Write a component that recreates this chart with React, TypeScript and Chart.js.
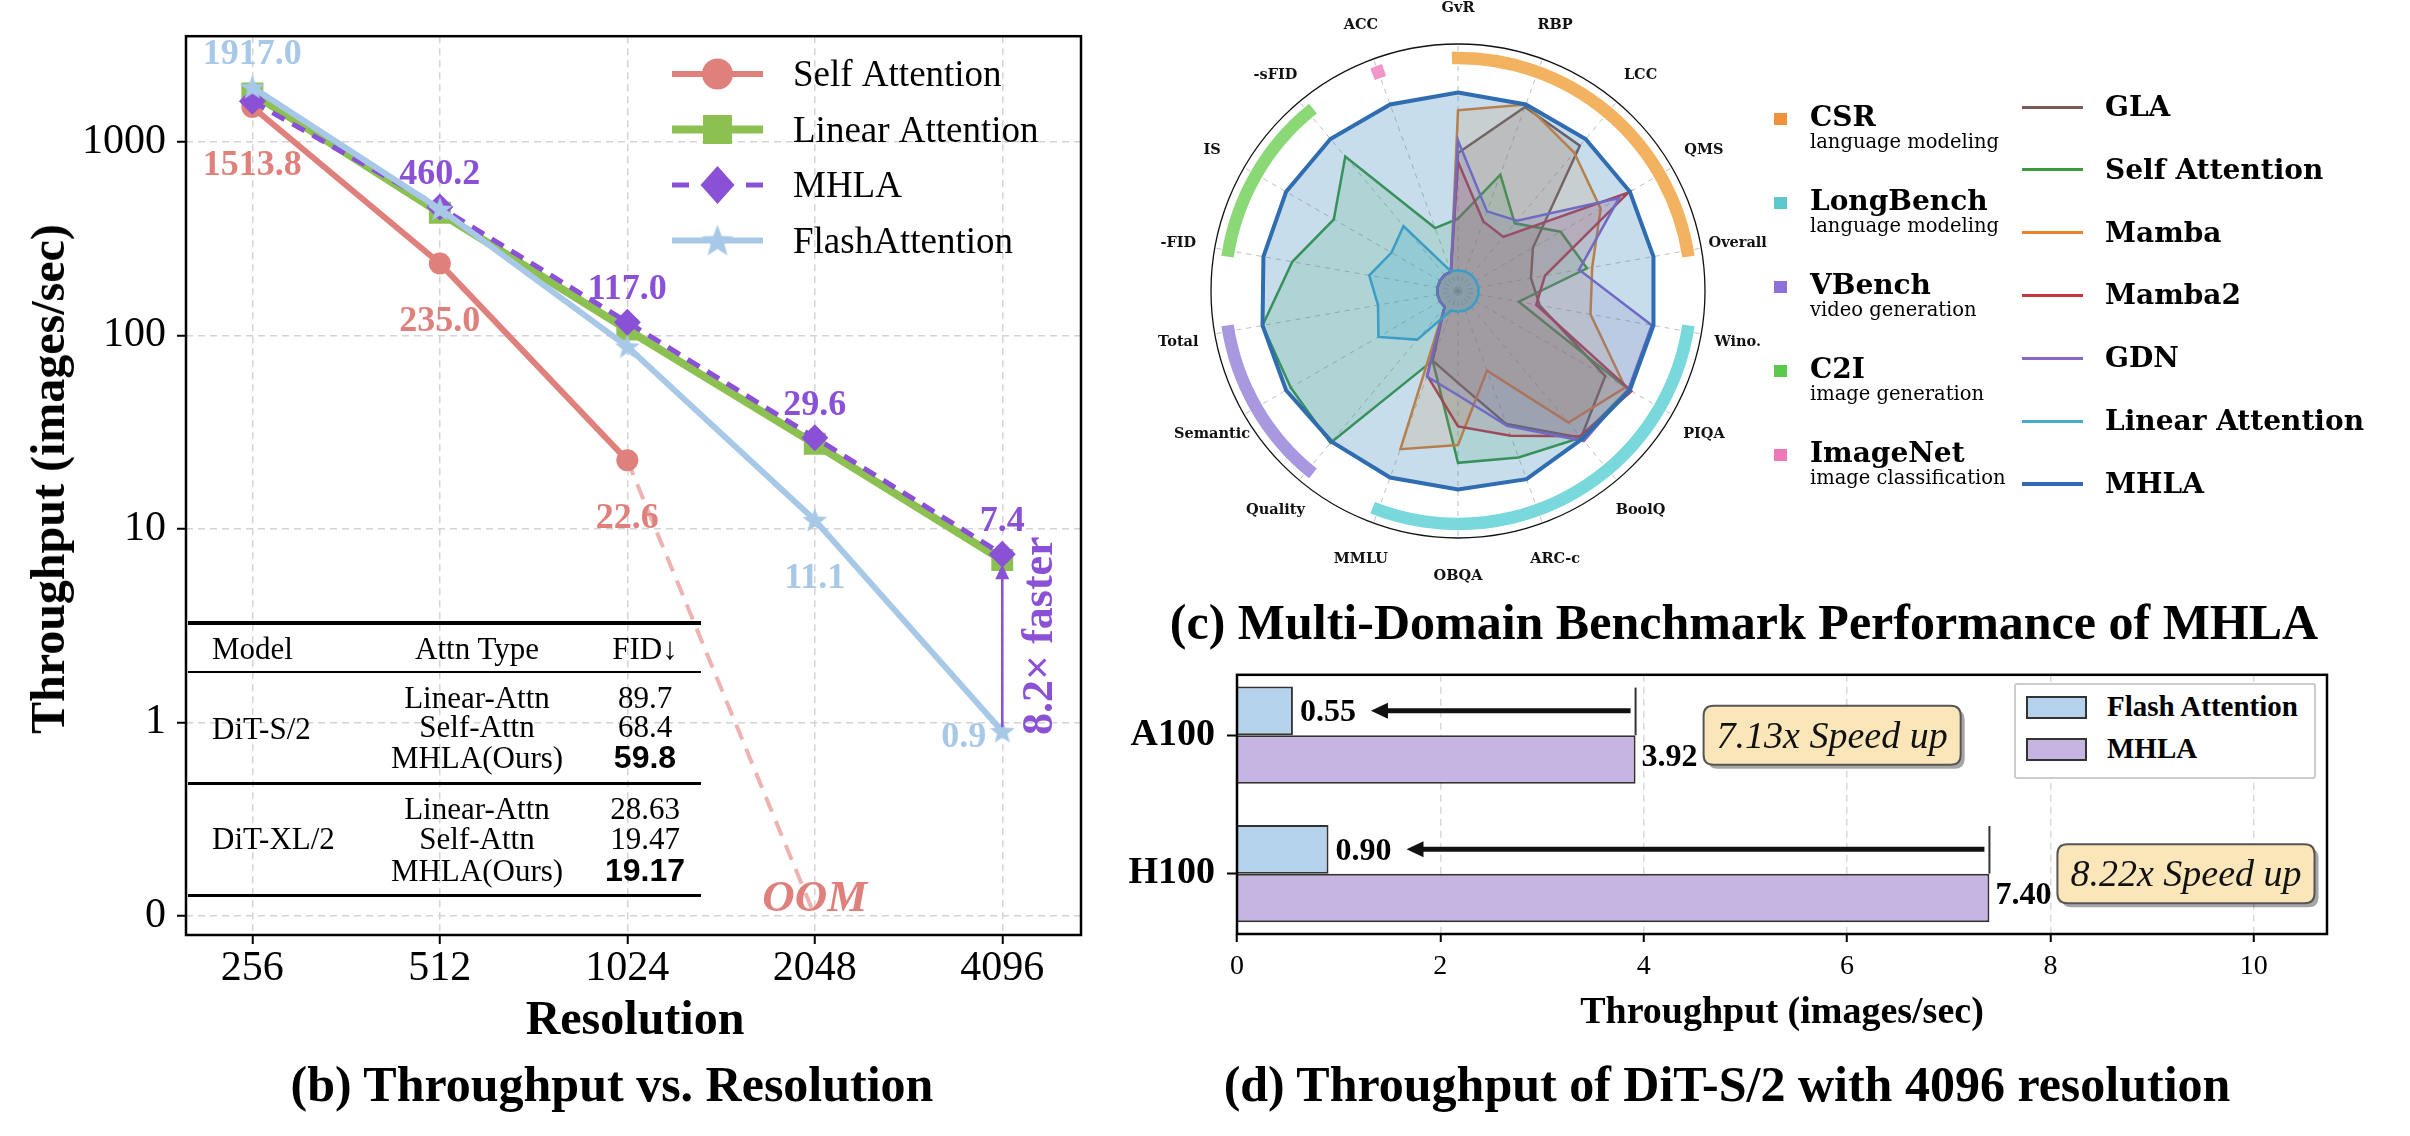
import React, { useEffect, useRef } from 'react';
import { Chart, registerables } from 'chart.js';
Chart.register(...registerables);

const TIMES = '"Liberation Serif", "Times New Roman", Times, serif';
const DJV = '"DejaVu Serif", serif';
const SANS = '"Liberation Sans", Arial, sans-serif';

// ---------- Panel (b): throughput vs resolution ----------
const resolutions = ['256', '512', '1024', '2048', '4096'];
const selfAttention = [1513.8, 235.0, 22.6, null, null];
const linearAttention = [1780, 430, 107, 27.5, 6.9];
const mhlaThroughput = [1620, 460.2, 117.0, 29.6, 7.4];
const flashThroughput = [1917.0, 450, 87.5, 11.1, 0.9];
const oomTrail = [null, null, 22.6, 0.1, null]; // 0.1 is the position labelled "0"
const yTickValues = [0.1, 1, 10, 100, 1000];
const yTickLabels = ['0', '1', '10', '100', '1000'];
const selfLabelPos = ['below', 'below', 'below', null, null];
const mhlaLabelPos = [null, 'above', 'above', 'above', 'above'];
const flashLabelPos = ['above', null, null, 'below', 'left'];

// inset table
const tableModels = ['DiT-S/2', 'DiT-XL/2'];
const attnTypes = ['Linear-Attn', 'Self-Attn', 'MHLA(Ours)'];
const fidS2 = ['89.7', '68.4', '59.8'];
const fidXL2 = ['28.63', '19.47', '19.17'];

// ---------- Panel (c): radar ----------
const radarAxes = ['GvR', 'RBP', 'LCC', 'QMS', 'Overall', 'Wino.', 'PIQA', 'BoolQ', 'ARC-c', 'OBQA', 'MMLU', 'Quality', 'Semantic', 'Total', '-FID', 'IS', '-sFID', 'ACC'];
const glaScores = [0.66, 0.985, 0.95, 0.37, 0.30, 0.35, 0.84, 0.96, 0.68, 0.40, 0.30, 0, 0, 0, 0, 0, 0, 0];
const selfScores = [0.29, 0.58, 0.38, 0.55, 0.62, 0.23, 0.99, 0.96, 0.88, 0.85, 0.30, 1.0, 0.97, 1.0, 0.83, 0.69, 0.87, 0.26];
const mambaScores = [0.90, 1.0, 0.90, 0.81, 0.65, 0.64, 0.97, 0.85, 0.36, 0.75, 0.83, 0, 0, 0, 0, 0, 0, 0];
const mamba2Scores = [0.61, 0.30, 0.28, 0.99, 0.38, 0.33, 1.01, 0.95, 0.75, 0.645, 0.39, 0, 0, 0, 0, 0, 0, 0];
const gdnScores = [0.73, 0.36, 0.40, 0.93, 0.575, 0.99, 0.99, 0.985, 0.69, 0.47, 0.395, 0, 0, 0, 0, 0, 0, 0];
const linearScores = [0, 0, 0, 0, 0, 0, 0, 0, 0, 0, 0, 0.24, 0.40, 0.34, 0.39, 0.315, 0.36, 0];
const mhlaScores = [1, 1, 1, 1, 1, 1, 1, 0.97, 1.01, 1, 1, 0.99, 1, 1, 0.995, 1, 1, 1];
const radarNames = ['GLA', 'Self Attention', 'Mamba', 'Mamba2', 'GDN', 'Linear Attention', 'MHLA'];
const radarColors = ['#7d5a55', '#3f9a3f', '#e8832a', '#c8383a', '#8a66c8', '#45aacc', '#2f6db0'];
const radarFills = ['rgba(140,86,75,0.16)', 'rgba(44,160,44,0.15)', 'rgba(255,127,14,0.15)', 'rgba(214,39,40,0.15)', 'rgba(148,103,189,0.16)', 'rgba(23,190,207,0.18)', 'rgba(31,119,180,0.25)'];
const domainNames = ['CSR', 'LongBench', 'VBench', 'C2I', 'ImageNet'];
const domainTasks = ['language modeling', 'language modeling', 'video generation', 'image generation', 'image classification'];
const domainFirstAxis = [0, 5, 11, 14, 17];
const domainLastAxis = [4, 10, 13, 16, 17];
const domainArcColors = ['#f2b25f', '#78d8dc', '#a898e0', '#8ad876', '#f096c8'];
const domainKeyColors = ['#f0923a', '#5bc8cc', '#8e70d8', '#5cc84c', '#ee78b8'];

// ---------- Panel (d): bar ----------
const gpus = ['A100', 'H100'];
const flashGpu = [0.55, 0.90];
const mhlaGpu = [3.92, 7.40];

const C_SELF = '#e0807c';
const C_LIN = '#8cc152';
const C_MHLA = '#8a50d6';
const C_FLASH = '#a8c8e8';

function makeStar(outer: number, color: string) {
  const c = document.createElement('canvas');
  const s = Math.ceil(outer * 2 + 2);
  c.width = s; c.height = s;
  const ctx = c.getContext('2d')!;
  const inner = outer * 0.42;
  ctx.beginPath();
  for (let k = 0; k < 10; k++) {
    const r = k % 2 === 0 ? outer : inner;
    const a = -Math.PI / 2 + (k * Math.PI) / 5;
    const x = s / 2 + r * Math.cos(a), y = s / 2 + r * Math.sin(a) + outer * 0.08;
    if (k === 0) ctx.moveTo(x, y); else ctx.lineTo(x, y);
  }
  ctx.closePath();
  ctx.fillStyle = color;
  ctx.fill();
  return c;
}

function textC(ctx: CanvasRenderingContext2D, t: string, x: number, cy: number, size: number, align: CanvasTextAlign = 'center', k = 0.33) {
  ctx.textAlign = align;
  ctx.textBaseline = 'alphabetic';
  ctx.fillText(t, x, cy + size * k);
}

function buildB(canvas: HTMLCanvasElement) {
  const star = makeStar(13, C_FLASH);
  const starBig = makeStar(17, C_FLASH);
  const xy = (arr: (number | null)[]) => arr.map((v, i) => ({ x: i, y: v }));
  const plugin = {
    id: 'panelB',
    afterDatasetsDraw(chart: any) {
      const { ctx, chartArea: a, scales } = chart;
      const x = scales.x, y = scales.y;
      ctx.save();
      ctx.strokeStyle = '#000';
      ctx.lineWidth = 2.5;
      ctx.strokeRect(a.left, a.top, a.right - a.left, a.bottom - a.top);
      // value labels
      ctx.font = `bold 36px ${TIMES}`;
      const put = (arr: (number | null)[], pos: (string | null)[], color: string) => {
        arr.forEach((v, i) => {
          const p = pos[i];
          if (!p || v == null) return;
          const px = x.getPixelForValue(i), py = y.getPixelForValue(v);
          ctx.fillStyle = color;
          const t = v.toFixed(1);
          if (p === 'above') textC(ctx, t, px, py - 35, 36);
          else if (p === 'below') textC(ctx, t, px, py + 56, 36);
          else textC(ctx, t, px - 16, py + 4, 36, 'right');
        });
      };
      put(selfAttention, selfLabelPos, C_SELF);
      put(mhlaThroughput, mhlaLabelPos, C_MHLA);
      put(flashThroughput, flashLabelPos, C_FLASH);
      // OOM
      ctx.font = `italic bold 45px ${TIMES}`;
      ctx.fillStyle = C_SELF;
      textC(ctx, 'OOM', x.getPixelForValue(3), y.getPixelForValue(0.1) - 20, 45);
      // speed-up arrow
      const last = resolutions.length - 1;
      const ax = x.getPixelForValue(last);
      const yBot = y.getPixelForValue(flashThroughput[last] as number) - 4;
      const yTop = y.getPixelForValue(mhlaThroughput[last] as number) + 10;
      ctx.strokeStyle = C_MHLA;
      ctx.fillStyle = C_MHLA;
      ctx.lineWidth = 2.5;
      ctx.beginPath();
      ctx.moveTo(ax, yBot);
      ctx.lineTo(ax, yTop + 12);
      ctx.stroke();
      ctx.beginPath();
      ctx.moveTo(ax, yTop);
      ctx.lineTo(ax - 7, yTop + 15);
      ctx.lineTo(ax + 7, yTop + 15);
      ctx.closePath();
      ctx.fill();
      const ratio = (mhlaThroughput[last] as number) / (flashThroughput[last] as number);
      ctx.save();
      ctx.translate(ax + 35, (yBot + yTop) / 2 - 10);
      ctx.rotate(-Math.PI / 2);
      ctx.font = `bold 44px ${TIMES}`;
      textC(ctx, `${ratio.toFixed(1)}× faster`, 0, 0, 44);
      ctx.restore();
      // legend
      const lx0 = 672, lx1 = 763, lmx = (lx0 + lx1) / 2;
      const ly = [74, 129.5, 185, 240.5];
      ctx.lineCap = 'butt';
      ctx.strokeStyle = C_SELF; ctx.lineWidth = 6; ctx.setLineDash([]);
      ctx.beginPath(); ctx.moveTo(lx0, ly[0]); ctx.lineTo(lx1, ly[0]); ctx.stroke();
      ctx.fillStyle = C_SELF; ctx.beginPath(); ctx.arc(lmx, ly[0], 15.5, 0, Math.PI * 2); ctx.fill();
      ctx.strokeStyle = C_LIN; ctx.lineWidth = 8;
      ctx.beginPath(); ctx.moveTo(lx0, ly[1]); ctx.lineTo(lx1, ly[1]); ctx.stroke();
      ctx.fillStyle = C_LIN; ctx.fillRect(lmx - 14.5, ly[1] - 14.5, 29, 29);
      ctx.strokeStyle = C_MHLA; ctx.lineWidth = 5;
      ctx.beginPath(); ctx.moveTo(lx0, ly[2]); ctx.lineTo(lx0 + 17, ly[2]); ctx.moveTo(lx1 - 17, ly[2]); ctx.lineTo(lx1, ly[2]); ctx.stroke();
      ctx.fillStyle = C_MHLA; ctx.beginPath();
      ctx.moveTo(lmx, ly[2] - 19); ctx.lineTo(lmx + 17, ly[2]); ctx.lineTo(lmx, ly[2] + 19); ctx.lineTo(lmx - 17, ly[2]); ctx.closePath(); ctx.fill();
      ctx.strokeStyle = C_FLASH; ctx.lineWidth = 6;
      ctx.beginPath(); ctx.moveTo(lx0, ly[3]); ctx.lineTo(lx1, ly[3]); ctx.stroke();
      ctx.drawImage(starBig, lmx - starBig.width / 2, ly[3] - starBig.height / 2);
      ctx.fillStyle = '#000';
      ctx.font = `37px ${TIMES}`;
      ['Self Attention', 'Linear Attention', 'MHLA', 'FlashAttention'].forEach((t, i) => textC(ctx, t, 793, ly[i], 37, 'left'));
      ctx.restore();
    },
  };
  const gridCommon = { color: '#d4d4d4', lineWidth: 1.5, drawTicks: true, tickLength: 9, tickColor: '#000', tickWidth: 2 };
  return new Chart(canvas, {
    type: 'line',
    data: {
      datasets: [
        { label: 'OOM', data: xy(oomTrail), borderColor: 'rgba(224,128,124,0.6)', borderWidth: 4, borderDash: [16, 10], pointRadius: 0, order: 5 } as any,
        { label: 'Self Attention', data: xy(selfAttention), borderColor: C_SELF, backgroundColor: C_SELF, borderWidth: 6, pointStyle: 'circle', pointRadius: 11, pointBorderWidth: 0, order: 4 },
        { label: 'Linear Attention', data: xy(linearAttention), borderColor: C_LIN, backgroundColor: C_LIN, borderWidth: 8, pointStyle: 'rect', pointRadius: 15.5, pointBorderWidth: 0, order: 3 },
        { label: 'MHLA', data: xy(mhlaThroughput), borderColor: C_MHLA, backgroundColor: C_MHLA, borderWidth: 5, borderDash: [14, 9], pointStyle: 'rectRot', pointRadius: 13.5, pointBorderWidth: 0, order: 2 },
        { label: 'FlashAttention', data: xy(flashThroughput), borderColor: C_FLASH, backgroundColor: C_FLASH, borderWidth: 6, pointStyle: star, pointRadius: 13, order: 1 },
      ],
    },
    options: {
      animation: false,
      responsive: false,
      layout: { padding: { top: 24, right: 16, left: 0, bottom: 0 } },
      plugins: { legend: { display: false }, tooltip: { enabled: false } },
      scales: {
        x: {
          type: 'linear', min: -0.354, max: 4.42,
          afterBuildTicks: (s: any) => { s.ticks = resolutions.map((_, i) => ({ value: i })); },
          afterFit: (s: any) => { s.height = 65; },
          ticks: { callback: (v: any) => resolutions[v], font: { family: TIMES, size: 42, lineHeight: 1.2 }, color: '#000', padding: 0, maxRotation: 0, autoSkip: false },
          grid: gridCommon,
          border: { display: false, dash: [7, 5] },
        },
        y: {
          type: 'logarithmic', min: 0.0796, max: 3515,
          afterBuildTicks: (s: any) => { s.ticks = yTickValues.map((v) => ({ value: v })); },
          afterFit: (s: any) => { s.width = 186; },
          ticks: { callback: (v: any) => yTickLabels[yTickValues.indexOf(v)] ?? '', font: { family: TIMES, size: 42 }, color: '#000', padding: 11, autoSkip: false },
          grid: gridCommon,
          border: { display: false, dash: [7, 5] },
        },
      },
    } as any,
    plugins: [plugin],
  });
}

function buildC(canvas: HTMLCanvasElement) {
  const plugin = {
    id: 'radarDeco',
    beforeDatasetsDraw(chart: any) {
      const r = chart.scales.r;
      const ctx = chart.ctx;
      ctx.save();
      ctx.beginPath();
      ctx.arc(r.xCenter, r.yCenter, r.drawingArea, 0, Math.PI * 2);
      ctx.strokeStyle = '#111';
      ctx.lineWidth = 1.3;
      ctx.stroke();
      const step = (Math.PI * 2) / radarAxes.length;
      const pad = (1.5 * Math.PI) / 180;
      domainFirstAxis.forEach((f, k) => {
        const a0 = f * step - Math.PI / 2 - pad;
        const a1 = domainLastAxis[k] * step - Math.PI / 2 + pad;
        ctx.beginPath();
        ctx.arc(r.xCenter, r.yCenter, r.drawingArea - 14, a0, a1);
        ctx.strokeStyle = domainArcColors[k];
        ctx.lineWidth = 12.5;
        ctx.lineCap = 'butt';
        ctx.stroke();
      });
      ctx.restore();
    },
    afterDraw(chart: any) {
      const r = chart.scales.r;
      const ctx = chart.ctx;
      ctx.save();
      ctx.fillStyle = '#111';
      ctx.font = `bold 14.5px ${DJV}`;
      radarAxes.forEach((lab, i) => {
        const p = r.getPointPosition(i, 284);
        textC(ctx, lab, p.x, p.y, 14.5, 'center', 0.36);
      });
      ctx.restore();
    },
  };
  const series = [glaScores, selfScores, mambaScores, mamba2Scores, gdnScores, linearScores, mhlaScores];
  return new Chart(canvas, {
    type: 'radar',
    data: {
      labels: radarAxes,
      datasets: series.map((d, i) => ({
        label: radarNames[i],
        data: d,
        borderColor: radarColors[i],
        backgroundColor: radarFills[i],
        borderWidth: i === 6 ? 4 : 2.5,
        pointRadius: 0,
        fill: 'start',
        order: 7 - i,
      })),
    },
    options: {
      animation: false,
      responsive: false,
      layout: { padding: { top: 44, bottom: 62, left: 73, right: 73 } },
      plugins: { legend: { display: false }, tooltip: { enabled: false } },
      scales: {
        r: {
          min: -0.117, max: 1.273,
          ticks: { display: false },
          grid: { display: false },
          angleLines: { display: true, color: 'rgba(150,150,150,0.6)', lineWidth: 1, borderDash: [5, 5] },
          pointLabels: { display: false },
        },
      },
    } as any,
    plugins: [plugin],
  });
}

function roundRect(ctx: CanvasRenderingContext2D, x: number, y: number, w: number, h: number, r: number) {
  ctx.beginPath();
  ctx.moveTo(x + r, y);
  ctx.lineTo(x + w - r, y);
  ctx.quadraticCurveTo(x + w, y, x + w, y + r);
  ctx.lineTo(x + w, y + h - r);
  ctx.quadraticCurveTo(x + w, y + h, x + w - r, y + h);
  ctx.lineTo(x + r, y + h);
  ctx.quadraticCurveTo(x, y + h, x, y + h - r);
  ctx.lineTo(x, y + r);
  ctx.quadraticCurveTo(x, y, x + r, y);
  ctx.closePath();
}

function buildD(canvas: HTMLCanvasElement) {
  const plugin = {
    id: 'panelD',
    afterDatasetsDraw(chart: any) {
      const { ctx, chartArea: a } = chart;
      ctx.save();
      ctx.strokeStyle = '#000';
      ctx.lineWidth = 2.5;
      ctx.strokeRect(a.left, a.top, a.right - a.left, a.bottom - a.top);
      const fMeta = chart.getDatasetMeta(0).data;
      const mMeta = chart.getDatasetMeta(1).data;
      gpus.forEach((g, i) => {
        const fb = fMeta[i], mb = mMeta[i];
        const catY = (fb.y + mb.y) / 2;
        const fTop = Math.min(fb.y, mb.y) - fb.height / 2;
        ctx.fillStyle = '#000';
        ctx.font = `bold 32px ${TIMES}`;
        const fl = flashGpu[i].toFixed(2);
        textC(ctx, fl, fb.x + 7, fb.y, 32, 'left');
        const fw = ctx.measureText(fl).width;
        textC(ctx, mhlaGpu[i].toFixed(2), mb.x + 6, mb.y - 4, 32, 'left');
        // reference line
        ctx.strokeStyle = '#333';
        ctx.lineWidth = 2;
        ctx.beginPath();
        ctx.moveTo(mb.x, fTop + 1);
        ctx.lineTo(mb.x, catY);
        ctx.stroke();
        // arrow
        const tip = fb.x + 7 + fw + 15;
        const tail = mb.x - 5;
        ctx.strokeStyle = '#111';
        ctx.fillStyle = '#111';
        ctx.lineWidth = 5;
        ctx.beginPath();
        ctx.moveTo(tail, fb.y);
        ctx.lineTo(tip + 12, fb.y);
        ctx.stroke();
        ctx.beginPath();
        ctx.moveTo(tip, fb.y);
        ctx.lineTo(tip + 17, fb.y - 8);
        ctx.lineTo(tip + 17, fb.y + 8);
        ctx.closePath();
        ctx.fill();
        // speed-up box
        const txt = `${(mhlaGpu[i] / flashGpu[i]).toFixed(2)}x Speed up`;
        ctx.font = `italic 38px ${TIMES}`;
        const tw = ctx.measureText(txt).width;
        const bw = tw + 26, bh = 59;
        const bx = mb.x + 68, by = catY - bh / 2;
        ctx.fillStyle = 'rgba(0,0,0,0.35)';
        roundRect(ctx, bx + 4, by + 4, bw, bh, 10);
        ctx.fill();
        ctx.fillStyle = '#fae6b8';
        roundRect(ctx, bx, by, bw, bh, 10);
        ctx.fill();
        ctx.strokeStyle = '#555';
        ctx.lineWidth = 2;
        ctx.stroke();
        ctx.fillStyle = '#111';
        textC(ctx, txt, bx + bw / 2, catY, 38);
      });
      ctx.restore();
    },
  };
  return new Chart(canvas, {
    type: 'bar',
    data: {
      datasets: [
        { label: 'Flash Attention', data: gpus.map((_, i) => ({ x: flashGpu[i], y: i })), backgroundColor: '#b5d2ec', borderColor: '#333', borderWidth: 2, categoryPercentage: 0.702, barPercentage: 1 },
        { label: 'MHLA', data: gpus.map((_, i) => ({ x: mhlaGpu[i], y: i })), backgroundColor: '#c6b5e2', borderColor: '#333', borderWidth: 2, categoryPercentage: 0.702, barPercentage: 1 },
      ],
    },
    options: {
      animation: false,
      responsive: false,
      indexAxis: 'y',
      layout: { padding: { top: 29, right: 83, left: 0, bottom: 0 } },
      plugins: { legend: { display: false }, tooltip: { enabled: false } },
      scales: {
        x: {
          type: 'linear', min: 0, max: 10.72,
          afterBuildTicks: (s: any) => { s.ticks = [0, 2, 4, 6, 8, 10].map((v) => ({ value: v })); },
          afterFit: (s: any) => { s.height = 106; },
          ticks: { font: { family: TIMES, size: 28 }, color: '#000', padding: 8, maxRotation: 0 },
          grid: { color: '#d9d9d9', lineWidth: 1.5, drawTicks: true, tickLength: 8, tickColor: '#000', tickWidth: 2 },
          border: { display: false, dash: [7, 5] },
        },
        y: {
          type: 'linear', reverse: true, min: -0.436, max: 1.436, offset: false,
          afterBuildTicks: (s: any) => { s.ticks = gpus.map((_, i) => ({ value: i })); },
          afterFit: (s: any) => { s.width = 137; },
          ticks: { callback: (v: any) => gpus[v] ?? '', font: { family: TIMES, size: 38, weight: 'bold' }, color: '#000', padding: 12 },
          grid: { offset: false, drawOnChartArea: false, drawTicks: true, tickLength: 10, tickColor: '#000', tickWidth: 2 },
          border: { display: false },
        },
      },
    } as any,
    plugins: [plugin],
  });
}

type TP = { x: number; y: number; size: number; bold?: boolean; italic?: boolean; family?: string; color?: string; anchor?: 'center' | 'left' | 'right'; rotate?: number; children: React.ReactNode };
function Txt({ x, y, size, bold, italic, family = TIMES, color = '#000', anchor = 'center', rotate = 0, children }: TP) {
  const tx = anchor === 'center' ? '-50%' : anchor === 'left' ? '0%' : '-100%';
  return (
    <div style={{ position: 'absolute', left: x, top: y, transform: `translate(${tx},-50%) rotate(${rotate}deg)`, fontFamily: family, fontSize: size, fontWeight: bold ? 'bold' : 'normal', fontStyle: italic ? 'italic' : 'normal', color, lineHeight: 1, whiteSpace: 'nowrap' }}>
      {children}
    </div>
  );
}

function HLine({ y, h }: { y: number; h: number }) {
  return <div style={{ position: 'absolute', left: 188, top: y - h / 2, width: 513, height: h, background: '#000' }} />;
}

export default function App() {
  const bRef = useRef<HTMLCanvasElement>(null);
  const cRef = useRef<HTMLCanvasElement>(null);
  const dRef = useRef<HTMLCanvasElement>(null);
  useEffect(() => {
    const charts = [buildB(bRef.current!), buildC(cRef.current!), buildD(dRef.current!)];
    return () => charts.forEach((c) => c.destroy());
  }, []);
  const groupRowsY = [[697, 726, 757], [808, 838, 869.5]];
  const modelY = [727.5, 838];
  const fids = [fidS2, fidXL2];
  return (
    <div style={{ position: 'fixed', left: 0, top: 0, width: 2410, height: 1136, background: '#fff', overflow: 'hidden' }}>
      <canvas ref={bRef} width={1100} height={1000} style={{ position: 'absolute', left: 0, top: 0, width: 1100, height: 1000 }} />
      <canvas ref={cRef} width={640} height={600} style={{ position: 'absolute', left: 1138, top: 0, width: 640, height: 600 }} />
      <canvas ref={dRef} width={1310} height={400} style={{ position: 'absolute', left: 1100, top: 640, width: 1310, height: 400 }} />

      {/* panel (b) texts */}
      <Txt x={48} y={479} size={48} bold rotate={-90}>Throughput (images/sec)</Txt>
      <Txt x={635} y={1018} size={48} bold>Resolution</Txt>
      <Txt x={612} y={1084} size={50} bold>(b) Throughput vs. Resolution</Txt>

      {/* inset table */}
      <HLine y={623} h={3.5} />
      <HLine y={672} h={2} />
      <HLine y={783.6} h={2.5} />
      <HLine y={895.7} h={3.5} />
      <Txt x={212} y={648} size={31} anchor="left">Model</Txt>
      <Txt x={477} y={648} size={31}>Attn Type</Txt>
      <Txt x={645} y={648} size={31}>FID↓</Txt>
      {tableModels.map((m, g) => (
        <React.Fragment key={m}>
          <Txt x={212} y={modelY[g]} size={31} anchor="left">{m}</Txt>
          {attnTypes.map((a, r) => (
            <React.Fragment key={a}>
              <Txt x={477} y={groupRowsY[g][r]} size={31}>{a}</Txt>
              <Txt x={645} y={groupRowsY[g][r]} size={r === 2 ? 32 : 31} bold={r === 2} family={r === 2 ? SANS : TIMES}>{fids[g][r]}</Txt>
            </React.Fragment>
          ))}
        </React.Fragment>
      ))}

      {/* panel (c) legend */}
      {domainNames.map((n, i) => {
        const cy = 119 + i * 84;
        return (
          <React.Fragment key={n}>
            <div style={{ position: 'absolute', left: 1774, top: cy - 6.25, width: 12.5, height: 12.5, background: domainKeyColors[i] }} />
            <Txt x={1810} y={cy - 2.5} size={28} bold family={DJV} anchor="left">{n}</Txt>
            <Txt x={1810} y={cy + 23} size={19.5} family={DJV} anchor="left">{domainTasks[i]}</Txt>
          </React.Fragment>
        );
      })}
      {radarNames.map((n, i) => {
        const cy = 107 + i * 62.8;
        return (
          <React.Fragment key={n}>
            <div style={{ position: 'absolute', left: 2022, top: cy - (i === 6 ? 2 : 1.5), width: 61, height: i === 6 ? 4 : 3, background: radarColors[i] }} />
            <Txt x={2105} y={cy} size={28} bold family={DJV} anchor="left">{n}</Txt>
          </React.Fragment>
        );
      })}
      <Txt x={1744} y={622} size={50} bold>(c) Multi-Domain Benchmark Performance of MHLA</Txt>

      {/* panel (d) legend + texts */}
      <div style={{ position: 'absolute', left: 2014, top: 683, width: 298, height: 92, border: '2px solid #ccc', background: '#fff', borderRadius: 3 }} />
      <div style={{ position: 'absolute', left: 2026, top: 696, width: 57, height: 19, border: '2px solid #333', background: '#b5d2ec' }} />
      <div style={{ position: 'absolute', left: 2026, top: 738, width: 57, height: 19, border: '2px solid #333', background: '#c6b5e2' }} />
      <Txt x={2107} y={706} size={29} bold anchor="left">Flash Attention</Txt>
      <Txt x={2107} y={748} size={29} bold anchor="left">MHLA</Txt>
      <Txt x={1782} y={1010} size={38} bold>Throughput (images/sec)</Txt>
      <Txt x={1727} y={1084} size={50} bold>(d) Throughput of DiT-S/2 with 4096 resolution</Txt>
    </div>
  );
}
